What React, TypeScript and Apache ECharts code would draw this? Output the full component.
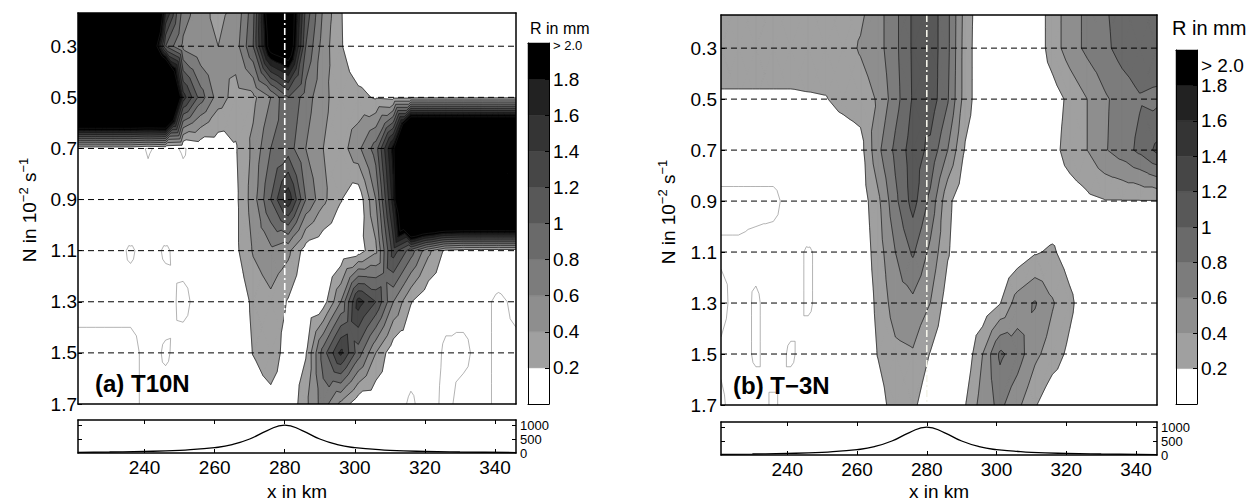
import { useEffect, useRef } from 'react';
import * as echarts from 'echarts';

// Model columns (km along track) and Brunt-Vaisala frequency rows (10^-2 s^-1)
const X_KM = [221, 226, 231, 236, 241, 246, 251, 256, 261, 266, 271, 276, 281, 286, 291, 296, 301, 306, 311, 316, 321, 326, 331, 336, 341, 346];
const N_ROWS = [0.1, 0.3, 0.5, 0.7, 0.9, 1.1, 1.3, 1.5, 1.7];

// Accumulated rain R (mm), experiment T10N, one array per N row
const T10N_N01 = [5, 5, 5, 5, 5, 1.9, 0.8, 0.45, 0.35, 0.4, 0.9, 2.5, 2.5, 1.2, 0.6, 0.21, 0.03, 0.03, 0.03, 0.03, 0.03, 0.03, 0.03, 0.03, 0.03, 0.03];
const T10N_N03 = [5, 5, 5, 5, 3, 1.0, 0.55, 0.42, 0.4, 0.5, 1.0, 2.2, 2.4, 1.0, 0.5, 0.22, 0.03, 0.03, 0.03, 0.03, 0.03, 0.03, 0.03, 0.03, 0.03, 0.03];
const T10N_N05 = [5, 5, 5, 5, 5, 5, 1.5, 0.9, 0.5, 0.32, 0.35, 0.6, 1.0, 0.7, 0.45, 0.3, 0.25, 0.18, 0.15, 0.15, 0.15, 0.15, 0.15, 0.15, 0.15, 0.15];
const T10N_N07 = [0.05, 0.05, 0.05, 0.05, -0.01, 0.03, -0.01, 0.05, 0.06, 0.18, 0.45, 0.8, 0.9, 0.6, 0.4, 0.3, 0.55, 0.9, 1.9, 5, 5, 5, 5, 5, 5, 5];
const T10N_N09 = [0.04, 0.04, 0.04, 0.1, 0.04, 0.1, 0.04, 0.03, 0.03, 0.15, 0.5, 1.0, 1.55, 0.8, 0.45, 0.21, 0.05, 0.6, 1.7, 5, 5, 5, 5, 5, 5, 5];
const T10N_N11 = [0.03, 0.03, 0.03, -0.01, 0.03, -0.01, 0.03, 0.03, 0.03, 0.15, 0.42, 0.55, 0.45, 0.1, 0.03, 0.03, 0.1, 0.35, 1.3, 0.9, 0.45, 0.15, 0.09, 0.09, 0.09, 0.09];
const T10N_N13 = [0.02, 0.02, 0.02, 0.03, 0.03, 0.03, -0.02, 0.03, 0.03, 0.02, 0.25, 0.35, 0.18, 0.03, 0.1, 0.6, 1.5, 1.2, 0.6, 0.21, 0.03, 0.02, 0.03, 0.03, -0.02, 0.02];
const T10N_N15 = [-0.02, -0.02, -0.02, -0.03, 0.03, -0.01, 0.03, 0.03, 0.03, 0.02, 0.21, 0.38, 0.05, 0.18, 0.9, 1.45, 0.9, 0.4, 0.05, 0.03, 0.03, -0.01, -0.02, 0.03, -0.02, -0.02];
const T10N_N17 = [-0.02, -0.02, -0.02, -0.02, 0.02, 0.03, 0.03, 0.03, 0.03, 0.02, 0.03, 0.09, 0.02, 0.35, 0.7, 0.35, 0.05, 0.03, 0.03, -0.01, 0.03, -0.02, 0.03, 0.03, -0.02, -0.02];
const R_T10N = [T10N_N01, T10N_N03, T10N_N05, T10N_N07, T10N_N09, T10N_N11, T10N_N13, T10N_N15, T10N_N17];

// Accumulated rain R (mm), experiment T-3N
const TM3N_N01 = [0.32, 0.32, 0.32, 0.32, 0.32, 0.32, 0.32, 0.32, 0.34, 0.52, 0.75, 1.03, 1.12, 0.85, 0.32, 0.05, 0.03, 0.03, 0.05, 0.3, 0.5, 0.65, 0.78, 0.9, 0.95, 0.95];
const TM3N_N03 = [0.32, 0.32, 0.32, 0.32, 0.32, 0.32, 0.32, 0.32, 0.42, 0.52, 0.75, 1.03, 1.12, 0.85, 0.3, 0.05, 0.03, 0.03, 0.05, 0.3, 0.5, 0.65, 0.75, 0.88, 0.95, 0.95];
const TM3N_N05 = [0.17, 0.17, 0.17, 0.17, 0.17, 0.18, 0.19, 0.26, 0.3, 0.42, 0.72, 1.02, 1.12, 0.82, 0.3, 0.05, 0.03, 0.03, 0.03, 0.1, 0.25, 0.4, 0.57, 0.68, 0.78, 0.75];
const TM3N_N07 = [0.05, 0.05, 0.05, 0.05, 0.05, 0.05, 0.05, 0.06, 0.12, 0.55, 0.85, 1.1, 0.95, 0.6, 0.18, 0.04, 0.03, 0.03, 0.03, 0.12, 0.3, 0.4, 0.58, 0.7, 0.85, 1.05];
const TM3N_N09 = [-0.02, -0.02, -0.02, -0.02, 0.03, 0.1, 0.04, 0.03, 0.08, 0.35, 0.75, 1.08, 0.75, 0.25, 0.05, 0.03, 0.03, 0.03, 0.03, 0.04, 0.08, 0.15, 0.19, 0.19, 0.19, 0.19];
const TM3N_N11 = [0.01, 0.01, 0.02, 0.03, 0.03, -0.01, 0.03, 0.03, 0.05, 0.3, 0.6, 0.83, 0.55, 0.22, 0.03, 0.03, 0.03, 0.06, 0.18, 0.23, 0.1, 0.03, 0.03, 0.03, 0.03, 0.03];
const TM3N_N13 = [-0.02, 0.03, -0.01, 0.03, 0.03, -0.01, 0.03, 0.03, 0.03, 0.25, 0.5, 0.55, 0.4, 0.1, 0.03, 0.03, 0.19, 0.5, 0.62, 0.42, 0.25, 0.05, 0.03, 0.03, 0.03, 0.03];
const TM3N_N15 = [0.01, 0.03, -0.01, 0.03, -0.01, 0.03, 0.03, 0.03, 0.02, 0.21, 0.35, 0.38, 0.19, 0.03, 0.05, 0.4, 0.84, 0.7, 0.45, 0.3, 0.15, 0.03, 0.03, 0.03, 0.03, 0.03];
const TM3N_N17 = [-0.01, 0.03, 0.03, -0.01, 0.03, 0.03, 0.03, 0.03, 0.03, 0.1, 0.3, 0.25, 0.05, 0.02, 0.19, 0.5, 0.65, 0.45, 0.22, 0.05, 0.03, 0.03, 0.03, 0.03, 0.03, 0.03];
const R_TM3N = [TM3N_N01, TM3N_N03, TM3N_N05, TM3N_N07, TM3N_N09, TM3N_N11, TM3N_N13, TM3N_N15, TM3N_N17];

// Filled contour levels and their grey shades (white below the first level)
const FILL_LEVELS = [0.2, 0.4, 0.6, 0.8, 1.0, 1.2, 1.4, 1.6, 1.8];
const FILL_COLORS = ['#a0a0a0', '#8e8e8e', '#7c7c7c', '#6a6a6a', '#585858', '#464646', '#343434', '#222222', '#000000'];
const LINE_LEVELS = [0.2, 0.4, 0.6, 0.8, 1.0, 1.2, 1.4, 1.6, 1.8, 2.0];
const ZERO_LEVEL = 0;

// Colour bar
const CB_EDGES = [0, 0.2, 0.4, 0.6, 0.8, 1.0, 1.2, 1.4, 1.6, 1.8, 2.0];
const CB_COLORS = ['#ffffff', ...FILL_COLORS];
const CB_LABELS = [0.2, 0.4, 0.6, 0.8, 1.0, 1.2, 1.4, 1.6, 1.8, 2.0];

// Axes
const N_TICKS = [0.3, 0.5, 0.7, 0.9, 1.1, 1.3, 1.5, 1.7];
const N_DASHED = [0.3, 0.5, 0.7, 0.9, 1.1, 1.3, 1.5];
const X_TICKS = [240, 260, 280, 300, 320, 340];
const RIDGE_X = 280;

// Terrain height (m) below the panels
const TERRAIN_X = [221, 230, 240, 250, 255, 260, 265, 270, 275, 280, 285, 290, 295, 300, 305, 310, 320, 330, 346];
const TERRAIN_H = [20, 35, 55, 95, 140, 190, 300, 500, 800, 1000, 800, 500, 300, 190, 140, 95, 55, 35, 15];
const TERRAIN_TICKS = [0, 500, 1000];
const TERRAIN_MARKS = [500, 1000];

const FONT = '"Liberation Sans", Arial, sans-serif';

type P = { x: number; y: number; v: number };

function clipAbove(poly: P[], t: number): P[] {
  const out: P[] = [];
  for (let i = 0; i < poly.length; i++) {
    const a = poly[i];
    const b = poly[(i + 1) % poly.length];
    const ain = a.v >= t;
    const bin = b.v >= t;
    if (ain) out.push(a);
    if (ain !== bin) {
      const f = (t - a.v) / (b.v - a.v);
      out.push({ x: a.x + f * (b.x - a.x), y: a.y + f * (b.y - a.y), v: t });
    }
  }
  return out;
}

// Triangulated filled contours: each grid cell is split into four triangles round its centre
function buildContours(grid: number[][]) {
  const fills: P[][][] = FILL_LEVELS.map(() => []);
  const lineLevels = [ZERO_LEVEL, ...LINE_LEVELS];
  const segs: P[][][] = lineLevels.map(() => []);
  for (let i = 0; i < N_ROWS.length - 1; i++) {
    for (let j = 0; j < X_KM.length - 1; j++) {
      const a = { x: X_KM[j], y: N_ROWS[i], v: grid[i][j] };
      const b = { x: X_KM[j + 1], y: N_ROWS[i], v: grid[i][j + 1] };
      const d = { x: X_KM[j + 1], y: N_ROWS[i + 1], v: grid[i + 1][j + 1] };
      const e = { x: X_KM[j], y: N_ROWS[i + 1], v: grid[i + 1][j] };
      const c = { x: (a.x + b.x) / 2, y: (a.y + e.y) / 2, v: (a.v + b.v + d.v + e.v) / 4 };
      const tris = [[a, b, c], [b, d, c], [d, e, c], [e, a, c]];
      for (const tri of tris) {
        const lo = Math.min(tri[0].v, tri[1].v, tri[2].v);
        const hi = Math.max(tri[0].v, tri[1].v, tri[2].v);
        let kFull = -1;
        FILL_LEVELS.forEach((t, k) => { if (lo >= t) kFull = k; });
        if (kFull >= 0) fills[kFull].push(tri);
        for (let k = kFull + 1; k < FILL_LEVELS.length; k++) {
          if (hi >= FILL_LEVELS[k]) fills[k].push(clipAbove(tri, FILL_LEVELS[k]));
        }
        lineLevels.forEach((L, m) => {
          if (lo >= L || hi < L) return;
          const pts: P[] = [];
          for (let s = 0; s < 3; s++) {
            const p = tri[s];
            const q = tri[(s + 1) % 3];
            if ((p.v >= L) !== (q.v >= L)) {
              const f = (L - p.v) / (q.v - p.v);
              pts.push({ x: p.x + f * (q.x - p.x), y: p.y + f * (q.y - p.y), v: L });
            }
          }
          if (pts.length === 2) segs[m].push(pts);
        });
      }
    }
  }
  return { fills, segs };
}

function pathOf(polys: P[][], api: any, closed: boolean) {
  let d = '';
  for (const poly of polys) {
    poly.forEach((p, idx) => {
      const q = api.coord([p.x, p.y]);
      d += (idx ? 'L' : 'M') + q[0].toFixed(2) + ',' + q[1].toFixed(2);
    });
    if (closed) d += 'Z';
  }
  return d;
}

function contourSeries(grid: number[][], xi: number, yi: number, ridgeColor: string) {
  const geo = buildContours(grid);
  return {
    type: 'custom',
    xAxisIndex: xi,
    yAxisIndex: yi,
    clip: true,
    silent: true,
    z: 2,
    data: [[0]],
    renderItem: (params: any, api: any) => {
      const children: any[] = [];
      geo.fills.forEach((polys, k) => {
        if (!polys.length) return;
        children.push({
          type: 'path',
          shape: { pathData: pathOf(polys, api, true) },
          style: { fill: FILL_COLORS[k], stroke: FILL_COLORS[k], lineWidth: 0.6 },
        });
      });
      geo.segs.forEach((segs, m) => {
        if (!segs.length) return;
        children.push({
          type: 'path',
          shape: { pathData: pathOf(segs, api, false) },
          style: { fill: 'none', stroke: m === 0 ? '#808080' : '#1a1a1a', lineWidth: m === 0 ? 0.6 : 0.7 },
        });
      });
      N_DASHED.forEach((n) => {
        const p0 = api.coord([X_KM[0], n]);
        const p1 = api.coord([X_KM[X_KM.length - 1], n]);
        children.push({
          type: 'line',
          shape: { x1: p0[0], y1: p0[1], x2: p1[0], y2: p1[1] },
          style: { stroke: '#000', lineWidth: 1, lineDash: [6, 4] },
        });
      });
      const r0 = api.coord([RIDGE_X, 0.17]);
      const r1 = api.coord([RIDGE_X, 1.7]);
      children.push({
        type: 'line',
        shape: { x1: r0[0], y1: r0[1], x2: r1[0], y2: r1[1] },
        style: { stroke: ridgeColor, lineWidth: 1.6, lineDash: [7, 3, 2, 3] },
      });
      const cs = params.coordSys;
      return {
        type: 'group',
        children,
        clipPath: { type: 'rect', shape: { x: cs.x, y: cs.y, width: cs.width, height: cs.height } },
      };
    },
  };
}

function colorbarSeries(xi: number, yi: number) {
  return {
    type: 'custom',
    xAxisIndex: xi,
    yAxisIndex: yi,
    silent: true,
    data: CB_COLORS.map((_, i) => [i]),
    renderItem: (_params: any, api: any) => {
      const i = api.value(0);
      const p0 = api.coord([0, CB_EDGES[i]]);
      const p1 = api.coord([1, CB_EDGES[i + 1]]);
      return {
        type: 'rect',
        shape: { x: p0[0], y: p1[1], width: p1[0] - p0[0], height: p0[1] - p1[1] },
        style: { fill: CB_COLORS[i], stroke: CB_COLORS[i], lineWidth: 0.5 },
      };
    },
  };
}

const axisLine = { show: true, onZero: false, lineStyle: { color: '#000', width: 1.5 } };
const thinLine = { show: true, onZero: false, lineStyle: { color: '#000', width: 1 } };
const noSplit = { show: false };
const labelStyle = { fontSize: 19, color: '#000', fontFamily: FONT };
const tickStyle = { color: '#000', width: 1 };

function bareAxis(gridIndex: number, position: string, min: number, max: number, extra: any = {}) {
  return {
    gridIndex,
    type: 'value',
    position,
    offset: 0,
    min,
    max,
    axisLine,
    axisTick: { show: false },
    axisLabel: { show: false },
    splitLine: noSplit,
    z: 10,
    ...extra,
  };
}

type Layout = {
  main: any; cb: any; ter: any;
  grid: number[][]; ridge: string; yMargin: number; cbMargin: number;
  topLabelSize: number; topLabelPad: number;
};

function buildOption() {
  const grids: any[] = [];
  const xAxes: any[] = [];
  const yAxes: any[] = [];
  const series: any[] = [];

  const panels: Layout[] = [
    {
      main: { left: 78, top: 13, width: 438, height: 391 },
      cb: { left: 528, top: 43, width: 21, height: 361 },
      ter: { left: 78, top: 420, width: 438, height: 33 },
      grid: R_T10N, ridge: '#ffffff', yMargin: 1, cbMargin: 4, topLabelSize: 13, topLabelPad: 4,
    },
    {
      main: { left: 721, top: 15, width: 436, height: 390 },
      cb: { left: 1176, top: 50, width: 21, height: 354 },
      ter: { left: 721, top: 422, width: 436, height: 33 },
      grid: R_TM3N, ridge: '#f4f4ea', yMargin: 4, cbMargin: 4, topLabelSize: 19, topLabelPad: 30,
    },
  ];

  panels.forEach((p) => {
    const g = grids.length;
    const ax = xAxes.length;
    const ay = yAxes.length;
    grids.push({ ...p.main, outerBoundsMode: 'none', containLabel: false });
    grids.push({ ...p.cb, outerBoundsMode: 'none', containLabel: false });
    grids.push({ ...p.ter, outerBoundsMode: 'none', containLabel: false });

    // main contour axes
    xAxes.push(bareAxis(g, 'bottom', X_KM[0], X_KM[X_KM.length - 1]));
    xAxes.push(bareAxis(g, 'top', X_KM[0], X_KM[X_KM.length - 1]));
    yAxes.push(bareAxis(g, 'left', 0.17, 1.7, {
      inverse: true,
      axisTick: { show: true, inside: true, length: 4, customValues: N_TICKS, lineStyle: tickStyle },
      axisLabel: { show: true, customValues: N_TICKS, formatter: (v: number) => v.toFixed(1), margin: p.yMargin, ...labelStyle },
    }));
    yAxes.push(bareAxis(g, 'right', 0.17, 1.7, { inverse: true }));

    // colour bar axes
    xAxes.push(bareAxis(g + 1, 'bottom', 0, 1, { axisLine: thinLine }));
    xAxes.push(bareAxis(g + 1, 'top', 0, 1, { axisLine: thinLine }));
    yAxes.push(bareAxis(g + 1, 'left', 0, 2, { axisLine: thinLine }));
    yAxes.push(bareAxis(g + 1, 'right', 0, 2, {
      axisLine: thinLine,
      axisTick: { show: true, inside: true, length: 4, customValues: CB_LABELS.slice(0, 9), lineStyle: tickStyle },
      axisLabel: {
        show: true,
        customValues: CB_LABELS,
        margin: p.cbMargin,
        ...labelStyle,
        formatter: (v: number) => (v > 1.99 ? '{top|> 2.0}' : Math.abs(v - 1) < 1e-9 ? '1' : v.toFixed(1)),
        rich: { top: { fontSize: p.topLabelSize, fontFamily: FONT, color: '#000', padding: [p.topLabelPad, 0, 0, 0] } },
      },
    }));

    // terrain axes
    xAxes.push(bareAxis(g + 2, 'bottom', X_KM[0], X_KM[X_KM.length - 1], {
      axisTick: { show: true, inside: true, length: 4, customValues: X_TICKS, lineStyle: tickStyle },
      axisLabel: { show: true, customValues: X_TICKS, margin: 5, formatter: (v: number) => String(v), ...labelStyle },
    }));
    xAxes.push(bareAxis(g + 2, 'top', X_KM[0], X_KM[X_KM.length - 1], {
      axisTick: { show: true, inside: true, length: 4, customValues: X_TICKS, lineStyle: tickStyle },
    }));
    yAxes.push(bareAxis(g + 2, 'left', 0, 1180, {
      axisTick: { show: true, inside: true, length: 4, customValues: TERRAIN_MARKS, lineStyle: tickStyle },
    }));
    yAxes.push(bareAxis(g + 2, 'right', 0, 1180, {
      axisTick: { show: true, inside: true, length: 4, customValues: TERRAIN_MARKS, lineStyle: tickStyle },
    }));
    // the three height labels are stacked tightly, so each sits on its own right-hand axis
    TERRAIN_TICKS.forEach((t) => {
      yAxes.push(bareAxis(g + 2, 'right', 0, 1180, {
        axisLine: { show: false },
        axisLabel: {
          show: true, customValues: [t], margin: 4, showMinLabel: true, showMaxLabel: true,
          formatter: (v: number) => String(v), fontSize: 13, color: '#000', fontFamily: FONT, lineHeight: 13,
        },
      }));
    });

    series.push(contourSeries(p.grid, ax, ay, p.ridge));
    series.push(colorbarSeries(ax + 2, ay + 2));
    series.push({
      type: 'line',
      xAxisIndex: ax + 4,
      yAxisIndex: ay + 4,
      data: TERRAIN_X.map((x, i) => [x, TERRAIN_H[i]]),
      smooth: true,
      showSymbol: false,
      symbol: 'none',
      silent: true,
      lineStyle: { color: '#000', width: 1.3 },
    });
  });

  const nameRich = {
    n: { fontSize: 19, fontFamily: FONT, fill: '#000', color: '#000', lineHeight: 24 },
    s: { fontSize: 13, fontFamily: FONT, fill: '#000', color: '#000', lineHeight: 13, verticalAlign: 'top' },
  };
  const nameText = '{n|N in 10}{s|−2}{n| s}{s|−1}';

  const graphic = [
    { type: 'text', x: 530, y: 28, style: { text: 'R in mm', fontSize: 16, fontFamily: FONT, fill: '#000', align: 'left', verticalAlign: 'middle' } },
    { type: 'text', x: 1172, y: 28, style: { text: 'R in mm', fontSize: 20, fontFamily: FONT, fill: '#000', align: 'left', verticalAlign: 'middle' } },
    { type: 'text', x: 95, y: 383, z: 20, style: { text: '(a) T10N', fontSize: 24, fontWeight: 'bold', fontFamily: FONT, fill: '#000', align: 'left', verticalAlign: 'middle' } },
    { type: 'text', x: 733, y: 385, z: 20, style: { text: '(b) T−3N', fontSize: 24, fontWeight: 'bold', fontFamily: FONT, fill: '#000', align: 'left', verticalAlign: 'middle' } },
    { type: 'text', x: 297, y: 491, style: { text: 'x in km', fontSize: 19, fontFamily: FONT, fill: '#000', align: 'center', verticalAlign: 'middle' } },
    { type: 'text', x: 939, y: 491, style: { text: 'x in km', fontSize: 19, fontFamily: FONT, fill: '#000', align: 'center', verticalAlign: 'middle' } },
    { type: 'text', x: 29, y: 210, rotation: Math.PI / 2, style: { text: nameText, rich: nameRich, fontSize: 19, fontFamily: FONT, fill: '#000', align: 'center', verticalAlign: 'middle' } },
    { type: 'text', x: 668, y: 212, rotation: Math.PI / 2, style: { text: nameText, rich: nameRich, fontSize: 19, fontFamily: FONT, fill: '#000', align: 'center', verticalAlign: 'middle' } },
  ];

  return {
    animation: false,
    backgroundColor: '#ffffff',
    textStyle: { fontFamily: FONT, color: '#000' },
    grid: grids,
    xAxis: xAxes,
    yAxis: yAxes,
    series,
    graphic,
  };
}

export default function App() {
  const ref = useRef<HTMLDivElement>(null);
  useEffect(() => {
    document.body.style.margin = '0';
    const chart = echarts.init(ref.current!, undefined, { renderer: 'svg' });
    chart.setOption(buildOption() as any);
    return () => chart.dispose();
  }, []);
  return <div ref={ref} style={{ width: 1258, height: 501, overflow: 'hidden' }} />;
}
